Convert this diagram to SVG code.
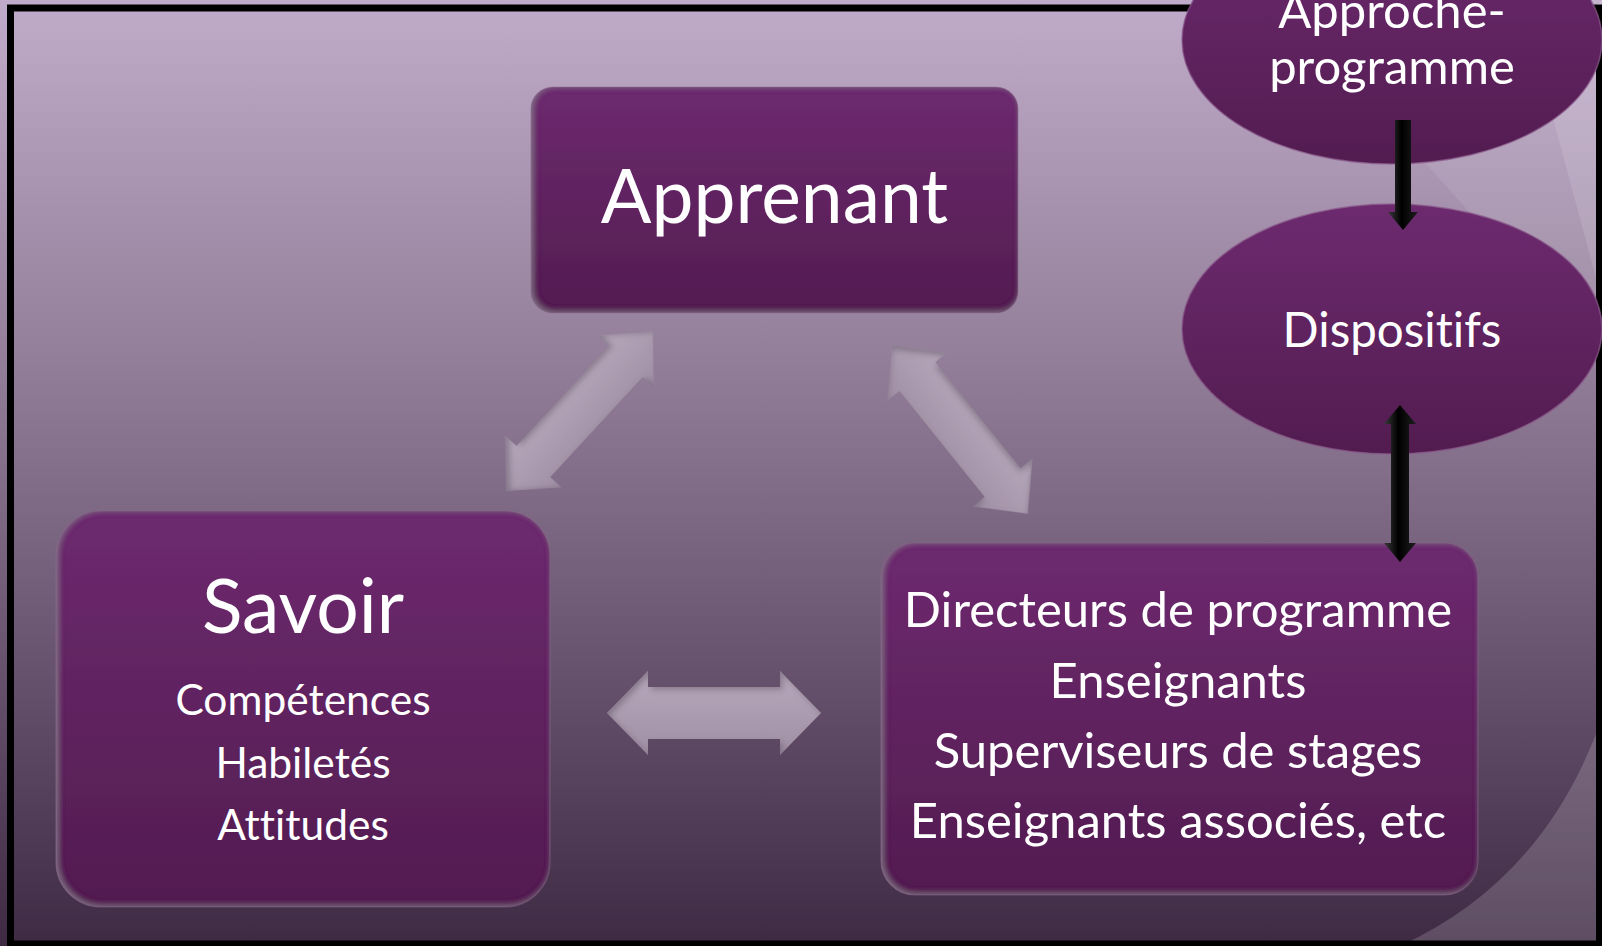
<svg xmlns="http://www.w3.org/2000/svg" width="1602" height="946" viewBox="0 0 1602 946">
<defs>
<linearGradient id="bg" x1="0" y1="0" x2="0" y2="946" gradientUnits="userSpaceOnUse">
<stop offset="0" stop-color="#c0abca"/>
<stop offset="0.36" stop-color="#95819b"/>
<stop offset="0.74" stop-color="#634e69"/>
<stop offset="1" stop-color="#3e2a43"/>
</linearGradient>
<linearGradient id="node" x1="0" y1="0" x2="0" y2="1">
<stop offset="0" stop-color="#6d2a6f"/>
<stop offset="1" stop-color="#521c50"/>
</linearGradient>
<linearGradient id="garrow" x1="0" y1="0" x2="0" y2="1">
<stop offset="0" stop-color="#b8a9bd"/>
<stop offset="1" stop-color="#a08fa4"/>
</linearGradient>
<linearGradient id="barrow" x1="0" y1="0" x2="1" y2="0">
<stop offset="0" stop-color="#3a3a3a"/>
<stop offset="0.45" stop-color="#000"/>
<stop offset="1" stop-color="#1e1e1e"/>
</linearGradient>
<filter id="bevel" x="-5%" y="-5%" width="110%" height="110%">
<feGaussianBlur in="SourceAlpha" stdDeviation="3" result="blur"/>
<feOffset in="blur" dx="2" dy="-1" result="ob"/>
<feComposite in="SourceAlpha" in2="ob" operator="arithmetic" k2="1" k3="-1" result="inner"/>
<feFlood flood-color="#8a7a8e" flood-opacity="0.9"/>
<feComposite in2="inner" operator="in" result="edge"/>
<feMerge><feMergeNode in="SourceGraphic"/><feMergeNode in="edge"/></feMerge>
</filter>
<filter id="gbevel" x="-10%" y="-10%" width="120%" height="120%">
<feGaussianBlur in="SourceAlpha" stdDeviation="3" result="blur"/>
<feOffset in="blur" dx="3" dy="3" result="ob"/>
<feComposite in="SourceAlpha" in2="ob" operator="arithmetic" k2="1" k3="-1" result="inner"/>
<feFlood flood-color="#6e6072" flood-opacity="0.7"/>
<feComposite in2="inner" operator="in" result="edge"/>
<feMerge><feMergeNode in="SourceGraphic"/><feMergeNode in="edge"/></feMerge>
</filter>
<style>
.box{fill:url(#node);stroke:#8e6a90;stroke-opacity:0.5;stroke-width:1.2;filter:url(#bevel)}
.ell{fill:url(#node);stroke:#8a5a8c;stroke-opacity:0.7;stroke-width:1.5}
.t{fill:#ffffff;font-family:Lato,"Open Sans","DejaVu Sans",sans-serif;text-anchor:middle;font-variant-ligatures:none;font-feature-settings:"liga" 0}
.big{font-size:75px}
.mid{font-size:49px}
.sm{font-size:42.5px}
.ga{fill:url(#garrow);filter:url(#gbevel)}
.ba{fill:url(#barrow)}
</style>
</defs>
<rect x="0" y="0" width="1602" height="946" fill="url(#bg)"/>
<g id="decor">
<path d="M1385,118 L1602,360 L1602,0 L1385,0 Z" fill="#ffffff" fill-opacity="0.09"/>
<path d="M1540,70 L1602,300 L1602,0 Z" fill="#ffffff" fill-opacity="0.12"/>
<path d="M1400,946 Q1545,880 1602,718 L1602,946 Z" fill="#ffffff" fill-opacity="0.17"/>
</g>
<rect x="10.5" y="8" width="1589" height="936" fill="none" stroke="#000" stroke-width="7"/>
<g id="apprenant">
<rect class="box" x="531" y="87" width="487" height="226" rx="22"/>
<text class="t big" x="774.5" y="223">Apprenant</text>
</g>
<g id="savoir">
<rect class="box" x="56" y="511" width="494" height="396" rx="45"/>
<text class="t big" x="303" y="633">Savoir</text>
<text class="t sm" x="303" y="715">Compétences</text>
<text class="t sm" x="303" y="778">Habiletés</text>
<text class="t sm" x="303" y="840">Attitudes</text>
</g>
<g id="acteurs">
<rect class="box" x="881" y="543" width="597" height="352" rx="34"/>
<text class="t mid" x="1178" y="627">Directeurs de programme</text>
<text class="t mid" x="1178" y="698">Enseignants</text>
<text class="t mid" x="1178" y="768">Superviseurs de stages</text>
<text class="t mid" x="1178" y="838">Enseignants associés, etc</text>
</g>
<g id="approche">
<ellipse class="ell" cx="1392" cy="40" rx="210" ry="124"/>
<text class="t mid" x="1392" y="28">Approche-</text>
<text class="t mid" x="1392" y="84">programme</text>
</g>
<g id="dispositifs">
<ellipse class="ell" cx="1392" cy="329" rx="210" ry="125"/>
<text class="t" x="1392" y="347" font-size="47.5">Dispositifs</text>
</g>
<g id="connectors">
<polygon class="ga" transform="translate(579.5,411.5) rotate(-47.3)" points="-108,0 -68,-38 -68,-23 68,-23 68,-38 108,0 68,38 68,23 -68,23 -68,38"/>
<polygon class="ga" transform="translate(960,429.5) rotate(51.2)" points="-108,0 -68,-38 -68,-23 68,-23 68,-38 108,0 68,38 68,23 -68,23 -68,38"/>
<polygon class="ga" transform="translate(714,713)" points="-107,0 -66,-42 -66,-26 66,-26 66,-42 107,0 66,42 66,26 -66,26 -66,42"/>
<polygon class="ba" points="1395,120 1411,120 1411,212 1418,212 1403,230 1388,212 1395,212"/>
<polygon class="ba" points="1400,405 1416,424 1409,424 1409,543 1416,543 1400,562 1384,543 1391,543 1391,424 1384,424"/>
</g>
</svg>
